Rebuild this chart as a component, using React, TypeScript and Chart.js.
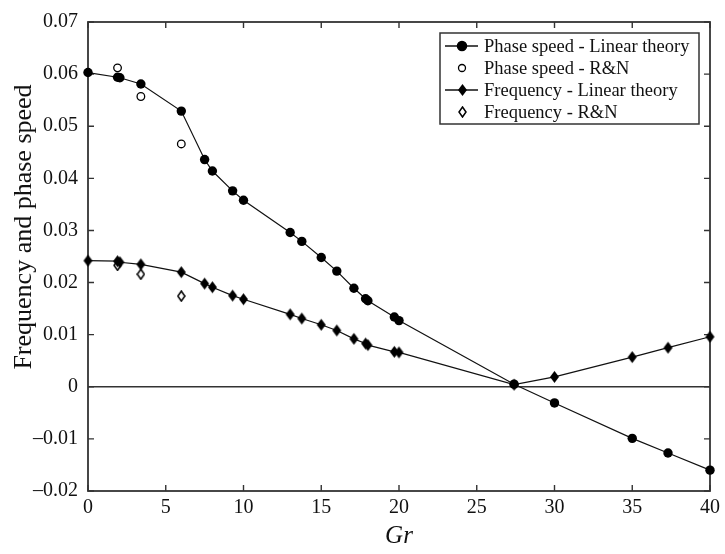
import React, { useEffect, useRef } from 'react';
import { Chart, registerables } from 'chart.js';

Chart.register(...registerables);

// ---- Data ----
const grLinear = [0, 1.9, 2.05, 3.4, 6, 7.5, 8, 9.3, 10, 13, 13.75, 15, 16, 17.1, 17.85, 18, 19.7, 20, 27.4, 30, 35, 37.3, 40];
const phaseLinear = [0.0603, 0.0594, 0.0593, 0.0581, 0.0529, 0.0436, 0.0414, 0.0376, 0.0358, 0.0296, 0.0279, 0.0248, 0.0222, 0.0189, 0.0169, 0.0165, 0.0134, 0.0127, 0.0005, -0.0031, -0.0099, -0.0127, -0.016];
const freqLinear = [0.0242, 0.0241, 0.0239, 0.0235, 0.022, 0.0198, 0.0191, 0.0175, 0.0168, 0.0139, 0.0131, 0.0119, 0.0108, 0.0092, 0.0083, 0.008, 0.0067, 0.0066, 0.0004, 0.0019, 0.0057, 0.0075, 0.0096];
const grRN = [1.9, 3.4, 6];
const phaseRN = [0.0612, 0.0557, 0.0466];
const freqRN = [0.0233, 0.0216, 0.0174];

const seriesLabels = [
  'Phase speed - Linear theory',
  'Phase speed - R&N',
  'Frequency - Linear theory',
  'Frequency - R&N',
];

const xTicks = [0, 5, 10, 15, 20, 25, 30, 35, 40];
const yTicks = [-0.02, -0.01, 0, 0.01, 0.02, 0.03, 0.04, 0.05, 0.06, 0.07];

const xTitle = 'Gr';
const yTitle = 'Frequency and phase speed';

const FONT = "'Liberation Serif', 'Times New Roman', serif";
const INK = '#111';
const FRAME = '#333';

function pts(xs: number[], ys: number[]) {
  return xs.map((x, i) => ({ x, y: ys[i] }));
}

function makeDiamond(w: number, h: number, filled: boolean): HTMLCanvasElement {
  const c = document.createElement('canvas');
  c.width = w + 2;
  c.height = h + 2;
  const ctx = c.getContext('2d')!;
  const cx = c.width / 2;
  const cy = c.height / 2;
  ctx.beginPath();
  ctx.moveTo(cx, 1);
  ctx.lineTo(c.width - 1, cy);
  ctx.lineTo(cx, c.height - 1);
  ctx.lineTo(1, cy);
  ctx.closePath();
  if (filled) {
    ctx.fillStyle = '#000';
    ctx.fill();
  } else {
    ctx.fillStyle = '#fff';
    ctx.fill();
    ctx.lineWidth = 1.5;
    ctx.strokeStyle = '#000';
    ctx.stroke();
  }
  return c;
}

function fmtY(v: number) {
  const r = Math.round(v * 100) / 100;
  if (r === 0) return '0';
  return r < 0 ? '\u2013' + Math.abs(r).toFixed(2) : r.toFixed(2);
}

const framePlugin = {
  id: 'frameTicks',
  beforeDatasetsDraw(chart: any) {
    const { ctx, chartArea } = chart;
    const { left, right, top, bottom } = chartArea;
    const xs = chart.scales.x;
    const ys = chart.scales.y;
    ctx.save();
    ctx.strokeStyle = FRAME;
    ctx.lineWidth = 1.6;
    const y0 = ys.getPixelForValue(0);
    ctx.beginPath();
    ctx.moveTo(left, y0);
    ctx.lineTo(right, y0);
    ctx.stroke();
    const tl = 6;
    ctx.lineWidth = 1.4;
    ctx.beginPath();
    xTicks.forEach((v) => {
      const px = xs.getPixelForValue(v);
      ctx.moveTo(px, bottom);
      ctx.lineTo(px, bottom - tl);
      ctx.moveTo(px, top);
      ctx.lineTo(px, top + tl);
    });
    yTicks.forEach((v) => {
      const py = ys.getPixelForValue(v);
      ctx.moveTo(left, py);
      ctx.lineTo(left + tl, py);
      ctx.moveTo(right, py);
      ctx.lineTo(right - tl, py);
    });
    ctx.stroke();
    ctx.lineWidth = 1.8;
    ctx.strokeRect(left, top, right - left, bottom - top);
    ctx.restore();
  },
  afterDatasetsDraw(chart: any) {
    const { ctx, chartArea } = chart;
    const { left, right, top, bottom } = chartArea;
    ctx.save();
    ctx.fillStyle = INK;
    ctx.font = `italic 25px ${FONT}`;
    ctx.textAlign = 'center';
    ctx.textBaseline = 'middle';
    ctx.fillText(xTitle, (left + right) / 2, bottom + 45);
    ctx.save();
    ctx.translate(24, top + 205);
    ctx.rotate(-Math.PI / 2);
    ctx.font = `26px ${FONT}`;
    ctx.fillText(yTitle, 0, 0);
    ctx.restore();

    // legend
    const lw = 259;
    const lh = 91;
    const lx = right - 11 - lw;
    const ly = top + 11;
    ctx.fillStyle = '#fff';
    ctx.fillRect(lx, ly, lw, lh);
    ctx.strokeStyle = FRAME;
    ctx.lineWidth = 1.5;
    ctx.strokeRect(lx, ly, lw, lh);
    const dsList = chart.data.datasets;
    ctx.font = `18.5px ${FONT}`;
    ctx.textAlign = 'left';
    ctx.textBaseline = 'middle';
    dsList.forEach((ds: any, i: number) => {
      const ry = ly + 13 + i * 22;
      const mx = lx + 22;
      if (ds.showLine) {
        ctx.strokeStyle = INK;
        ctx.lineWidth = 1.5;
        ctx.beginPath();
        ctx.moveTo(lx + 5, ry);
        ctx.lineTo(lx + 38, ry);
        ctx.stroke();
      }
      const ps = ds.pointStyle;
      if (ps instanceof HTMLCanvasElement) {
        ctx.drawImage(ps, Math.round(mx - ps.width / 2), Math.round(ry - ps.height / 2));
      } else {
        ctx.beginPath();
        ctx.arc(mx, ry, ds.legendRadius, 0, Math.PI * 2);
        ctx.fillStyle = ds.pointBackgroundColor;
        ctx.fill();
        ctx.strokeStyle = ds.pointBorderColor;
        ctx.lineWidth = ds.pointBorderWidth;
        ctx.stroke();
      }
      ctx.fillStyle = INK;
      ctx.fillText(ds.label, lx + 44, ry + 1);
    });
    ctx.restore();
  },
};

export default function App() {
  const ref = useRef<HTMLCanvasElement | null>(null);

  useEffect(() => {
    if (!ref.current) return;
    const diamondFilled = makeDiamond(9, 12, true);
    const diamondOpen = makeDiamond(7, 10, false);

    const chart = new Chart(ref.current, {
      type: 'scatter',
      data: {
        datasets: [
          {
            label: seriesLabels[0],
            data: pts(grLinear, phaseLinear),
            showLine: true,
            borderColor: INK,
            borderWidth: 1.2,
            pointStyle: 'circle',
            pointRadius: 4.7,
            pointBackgroundColor: '#000',
            pointBorderColor: '#000',
            pointBorderWidth: 0,
            legendRadius: 4.5,
            clip: false,
            tension: 0,
          } as any,
          {
            label: seriesLabels[1],
            data: pts(grRN, phaseRN),
            showLine: false,
            pointStyle: 'circle',
            pointRadius: 3.8,
            pointBackgroundColor: '#fff',
            pointBorderColor: '#000',
            pointBorderWidth: 1.3,
            legendRadius: 3.5,
            clip: false,
          } as any,
          {
            label: seriesLabels[2],
            data: pts(grLinear, freqLinear),
            showLine: true,
            borderColor: INK,
            borderWidth: 1.2,
            pointStyle: diamondFilled,
            pointRadius: 5,
            clip: false,
            tension: 0,
          } as any,
          {
            label: seriesLabels[3],
            data: pts(grRN, freqRN),
            showLine: false,
            pointStyle: diamondOpen,
            pointRadius: 5,
            clip: false,
          } as any,
        ],
      },
      options: {
        animation: false,
        responsive: false,
        devicePixelRatio: 1,
        events: [],
        layout: { padding: { left: 0, top: 15, right: 11, bottom: 0 } },
        plugins: {
          legend: { display: false },
          tooltip: { enabled: false },
          title: { display: false },
        },
        scales: {
          x: {
            type: 'linear',
            min: 0,
            max: 40,
            afterFit: (s: any) => {
              s.height = 63;
            },
            afterBuildTicks: (s: any) => {
              s.ticks = xTicks.map((v) => ({ value: v }));
            },
            ticks: {
              stepSize: 5,
              padding: 5,
              color: INK,
              font: { family: FONT, size: 20 },
              maxRotation: 0,
              callback: (v: any) => String(v),
            },
            grid: { display: false, drawTicks: false },
            border: { display: false },
          },
          y: {
            type: 'linear',
            min: -0.02,
            max: 0.07,
            afterFit: (s: any) => {
              s.width = 88;
            },
            afterBuildTicks: (s: any) => {
              s.ticks = yTicks.map((v) => ({ value: v }));
            },
            ticks: {
              stepSize: 0.01,
              padding: 10,
              color: INK,
              font: { family: FONT, size: 20 },
              callback: (v: any) => fmtY(Number(v)),
            },
            grid: { display: false, drawTicks: false },
            border: { display: false },
          },
        },
      },
      plugins: [framePlugin],
    } as any);

    return () => chart.destroy();
  }, []);

  return (
    <div style={{ position: 'absolute', left: 0, top: 0, width: 725, height: 554, background: '#fff' }}>
      <canvas ref={ref} width={725} height={554} style={{ display: 'block' }} />
    </div>
  );
}
